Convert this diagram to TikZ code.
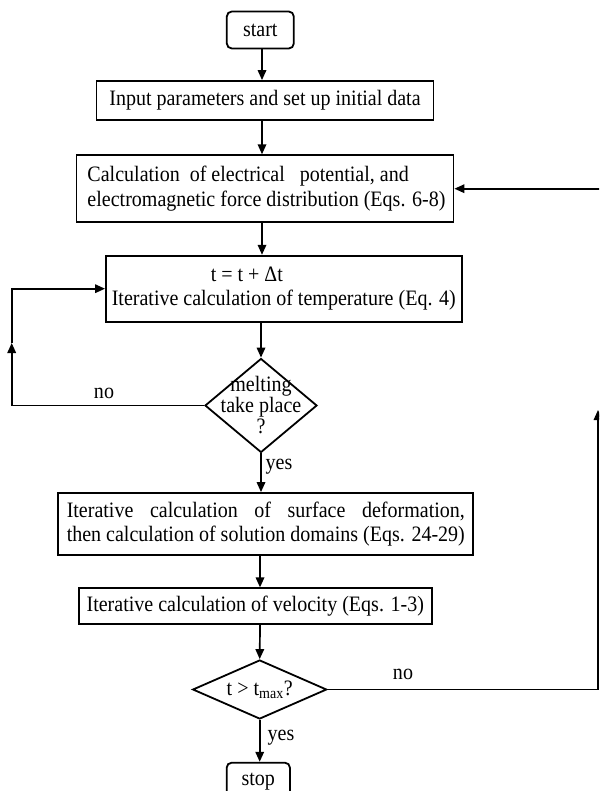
\documentclass[tikz,border=0pt]{standalone}
\usepackage{fontspec}
\setmainfont[FakeStretch=0.91]{Liberation Serif}
\usetikzlibrary{shapes.geometric,arrows.meta}
\newlength\surfw
\begin{document}
\begin{tikzpicture}[x=1pt,y=-1pt,
  font=\fontsize{22}{24.5}\selectfont,
  line width=1.7pt,
  >={Triangle[length=10pt,width=8.5pt]},
  box/.style={draw, rectangle, inner sep=0pt, line width=1.8pt},
  rbox/.style={box, rounded corners=5pt},
  dia/.style={draw, diamond, inner sep=0pt, line width=1.8pt},
  lbl/.style={inner sep=0pt}]
\useasboundingbox (0,0) rectangle (599,791);
\clip (0,0) rectangle (599,791);
% nodes
\node[rbox, minimum width=67pt, minimum height=37pt] (start) at (260.3,30) {start};
\node[box, minimum width=337pt, minimum height=39pt] (input) at (265,100.5) {Input parameters and set up initial data};
\node[box, minimum width=377pt, minimum height=67pt, align=left] (calc) at (265,188.7)
  {\hspace*{3pt}Calculation\ \ of electrical\ \ \ potential, and\\\hspace*{3pt}electromagnetic force distribution (Eqs. 6-8)};
\node[box, minimum width=355.7pt, minimum height=66pt, align=left] (temp) at (283.8,288.7)
  {\hspace*{99pt}t = t + Δt\\Iterative calculation of temperature (Eq. 4)};
\node[dia, minimum width=112pt, minimum height=94pt, align=center, font=\fontsize{22}{21}\selectfont] (melt) at (261,405.5)
  {\makebox[0pt]{melting}\\\makebox[0pt]{take place}\\\makebox[0pt]{?}};
\node[box, minimum width=415pt, minimum height=62pt, align=left] (surf) at (265.8,524)
  {\settowidth{\surfw}{then calculation of solution domains (Eqs. 24-29)}\makebox[\surfw][s]{Iterative calculation of surface deformation,}\\then calculation of solution domains (Eqs. 24-29)};
\node[box, minimum width=352.7pt, minimum height=36pt] (vel) at (255.3,606.3) {Iterative calculation of velocity (Eqs. 1-3)};
\node[dia, aspect=2.3, minimum width=134pt, minimum height=59pt] (tmax) at (259.7,689.5) {t > t\textsubscript{max}?};
\node[rbox, minimum width=63.3pt, minimum height=37pt] (stop) at (258.3,781.2) {stop};
% labels
\node[lbl] (no1) at (104,393) {no};
\node[lbl] (no2) at (403,674) {no};
\node[lbl] (yes1) at (279,466.7) {yes};
\node[lbl] (yes2) at (281,738) {yes};
% helper coordinates
\coordinate (m1) at (262,0);
\coordinate (m2) at (260,0);
\coordinate (lb) at (11.7,405.5);
\coordinate (la) at (11.7,343);
\coordinate (rb) at (598,689.5);
\coordinate (ra) at (598,410);
\coordinate (rt) at (601,188.7);
% connectors
\draw[->] (m1 |- start.south) -- (m1 |- input.north);
\draw[->] (m1 |- input.south) -- (m1 |- calc.north);
\draw[->] (m1 |- calc.south) -- (m1 |- temp.north);
\draw[->] (melt.north |- temp.south) -- (melt.north);
\draw[->] (melt.south) -- (melt.south |- surf.north);
\draw[->] (m2 |- surf.south) -- (m2 |- vel.north);
\draw[->] (m2 |- vel.south) -- (tmax.north);
\draw[->] (tmax.south) -- (tmax.south |- stop.north);
\draw[->] (melt.west) -- (lb) -- (la);
\draw[->] (la) |- (temp.west);
\draw[->] (tmax.east) -- (rb) -- (ra);
\draw[->] (rt) -- (calc.east);
\end{tikzpicture}
\end{document}
